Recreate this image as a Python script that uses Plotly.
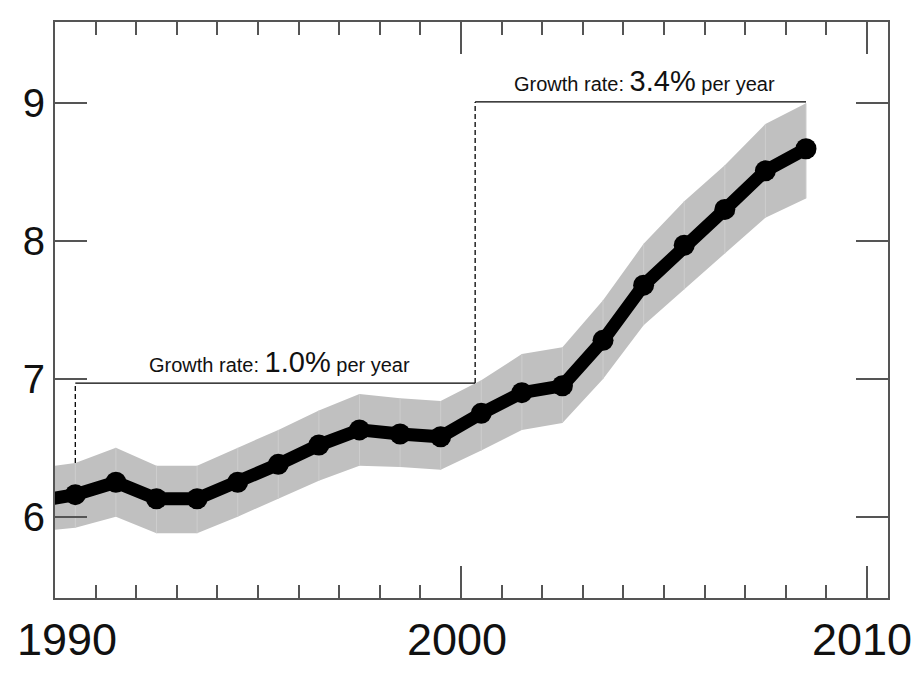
import plotly.graph_objects as go

# ---- data ----
years = [1989.5, 1990.5, 1991.5, 1992.5, 1993.5, 1994.5, 1995.5, 1996.5, 1997.5,
         1998.5, 1999.5, 2000.5, 2001.5, 2002.5, 2003.5, 2004.5, 2005.5, 2006.5,
         2007.5, 2008.5]
center = [6.11, 6.16, 6.25, 6.13, 6.13, 6.25, 6.38, 6.52, 6.63, 6.60, 6.58, 6.75,
          6.90, 6.95, 7.28, 7.68, 7.97, 8.23, 8.51, 8.67]
upper = [6.35, 6.39, 6.50, 6.37, 6.37, 6.50, 6.63, 6.77, 6.89, 6.86, 6.84, 6.99,
         7.18, 7.23, 7.57, 7.98, 8.29, 8.55, 8.85, 9.00]
lower = [5.89, 5.92, 6.00, 5.88, 5.88, 6.00, 6.13, 6.26, 6.37, 6.36, 6.34, 6.48,
         6.63, 6.68, 7.00, 7.39, 7.65, 7.91, 8.17, 8.31]

x_tick_vals = [1990, 2000, 2010]
x_tick_labels = ["1990", "2000", "2010"]
y_tick_vals = [6, 7, 8, 9]
y_tick_labels = ["6", "7", "8", "9"]

# growth-rate brackets
period1 = (1990.5, 2000.35)
level1 = 6.97
period2 = (2000.35, 2008.5)
level2 = 9.01
rate1 = "1.0%"
rate2 = "3.4%"

FONT = "Liberation Sans, Arial, sans-serif"
AXC = "#555555"

fig = go.Figure()

# band
fig.add_trace(go.Scatter(
    x=years + years[::-1], y=upper + lower[::-1],
    fill="toself", fillcolor="#c0c0c0", line=dict(width=0),
    mode="lines", hoverinfo="skip", showlegend=False))

# faint seams in band
sx, sy = [], []
for xv, u, l in zip(years, upper, lower):
    sx += [xv, xv, None]
    sy += [u, l, None]
fig.add_trace(go.Scatter(x=sx, y=sy, mode="lines",
                         line=dict(color="#cdcdcd", width=1),
                         hoverinfo="skip", showlegend=False))

# main line
fig.add_trace(go.Scatter(
    x=years, y=center, mode="lines+markers",
    line=dict(color="black", width=13),
    marker=dict(color="black", size=21),
    showlegend=False))

# brackets
idx1 = years.index(period1[0])
dash_line = dict(color="black", width=1.3, dash="5px,3px")
solid_line = dict(color="black", width=1.3)
fig.add_trace(go.Scatter(x=[period1[0], period1[0]], y=[upper[idx1], level1],
                         mode="lines", line=dash_line, showlegend=False, hoverinfo="skip"))
fig.add_trace(go.Scatter(x=[period1[0], period1[1]], y=[level1, level1],
                         mode="lines", line=solid_line, showlegend=False, hoverinfo="skip"))
fig.add_trace(go.Scatter(x=[period2[0], period2[0]], y=[level1, level2],
                         mode="lines", line=dash_line, showlegend=False, hoverinfo="skip"))
fig.add_trace(go.Scatter(x=[period2[0], period2[1]], y=[level2, level2],
                         mode="lines", line=solid_line, showlegend=False, hoverinfo="skip"))


def label(rate):
    return ("Growth rate: <span style='font-size:29px'>" + rate +
            "</span> per year")


annotations = [
    dict(x=sum(period1) / 2 + 0.1, y=level1, xref="x", yref="y", text=label(rate1),
         showarrow=False, yanchor="bottom", yshift=3,
         font=dict(family=FONT, size=20, color="#111111")),
    dict(x=sum(period2) / 2 + 0.1, y=level2, xref="x", yref="y", text=label(rate2),
         showarrow=False, yanchor="bottom", yshift=3,
         font=dict(family=FONT, size=20, color="#111111")),
]
shifts = [12, -4, -5]
for v, t, s in zip(x_tick_vals, x_tick_labels, shifts):
    annotations.append(dict(x=v, y=0, xref="x", yref="paper", text=t, showarrow=False,
                            yanchor="top", yshift=-14, xshift=s,
                            font=dict(family=FONT, size=45, color="#111111")))

fig.update_layout(
    width=911, height=678,
    margin=dict(l=47, r=31, t=12, b=88),
    paper_bgcolor="black", plot_bgcolor="white",
    annotations=annotations,
    shapes=[dict(type="rect", xref="paper", yref="paper",
                 x0=-0.1, x1=1.030, y0=-0.3, y1=1.1,
                 fillcolor="white", line=dict(width=0), layer="below")],
)
fig.update_xaxes(range=[1990, 2010.52], tickvals=x_tick_vals, showticklabels=False,
                 ticks="inside", ticklen=32, tickwidth=1.5, tickcolor=AXC,
                 minor=dict(tickmode="linear", tick0=1990, dtick=1, ticks="inside",
                            ticklen=13, tickwidth=1.5, tickcolor=AXC),
                 showline=True, linecolor=AXC, linewidth=2, mirror="ticks",
                 showgrid=False, zeroline=False)
fig.update_yaxes(range=[5.41, 9.59], tickvals=y_tick_vals, ticktext=y_tick_labels,
                 ticks="inside", ticklen=32, tickwidth=1.5, tickcolor=AXC,
                 showline=True, linecolor=AXC, linewidth=2, mirror="ticks",
                 showgrid=False, zeroline=False,
                 tickfont=dict(family=FONT, size=40, color="#111111"))

fig.write_html("out.html")
